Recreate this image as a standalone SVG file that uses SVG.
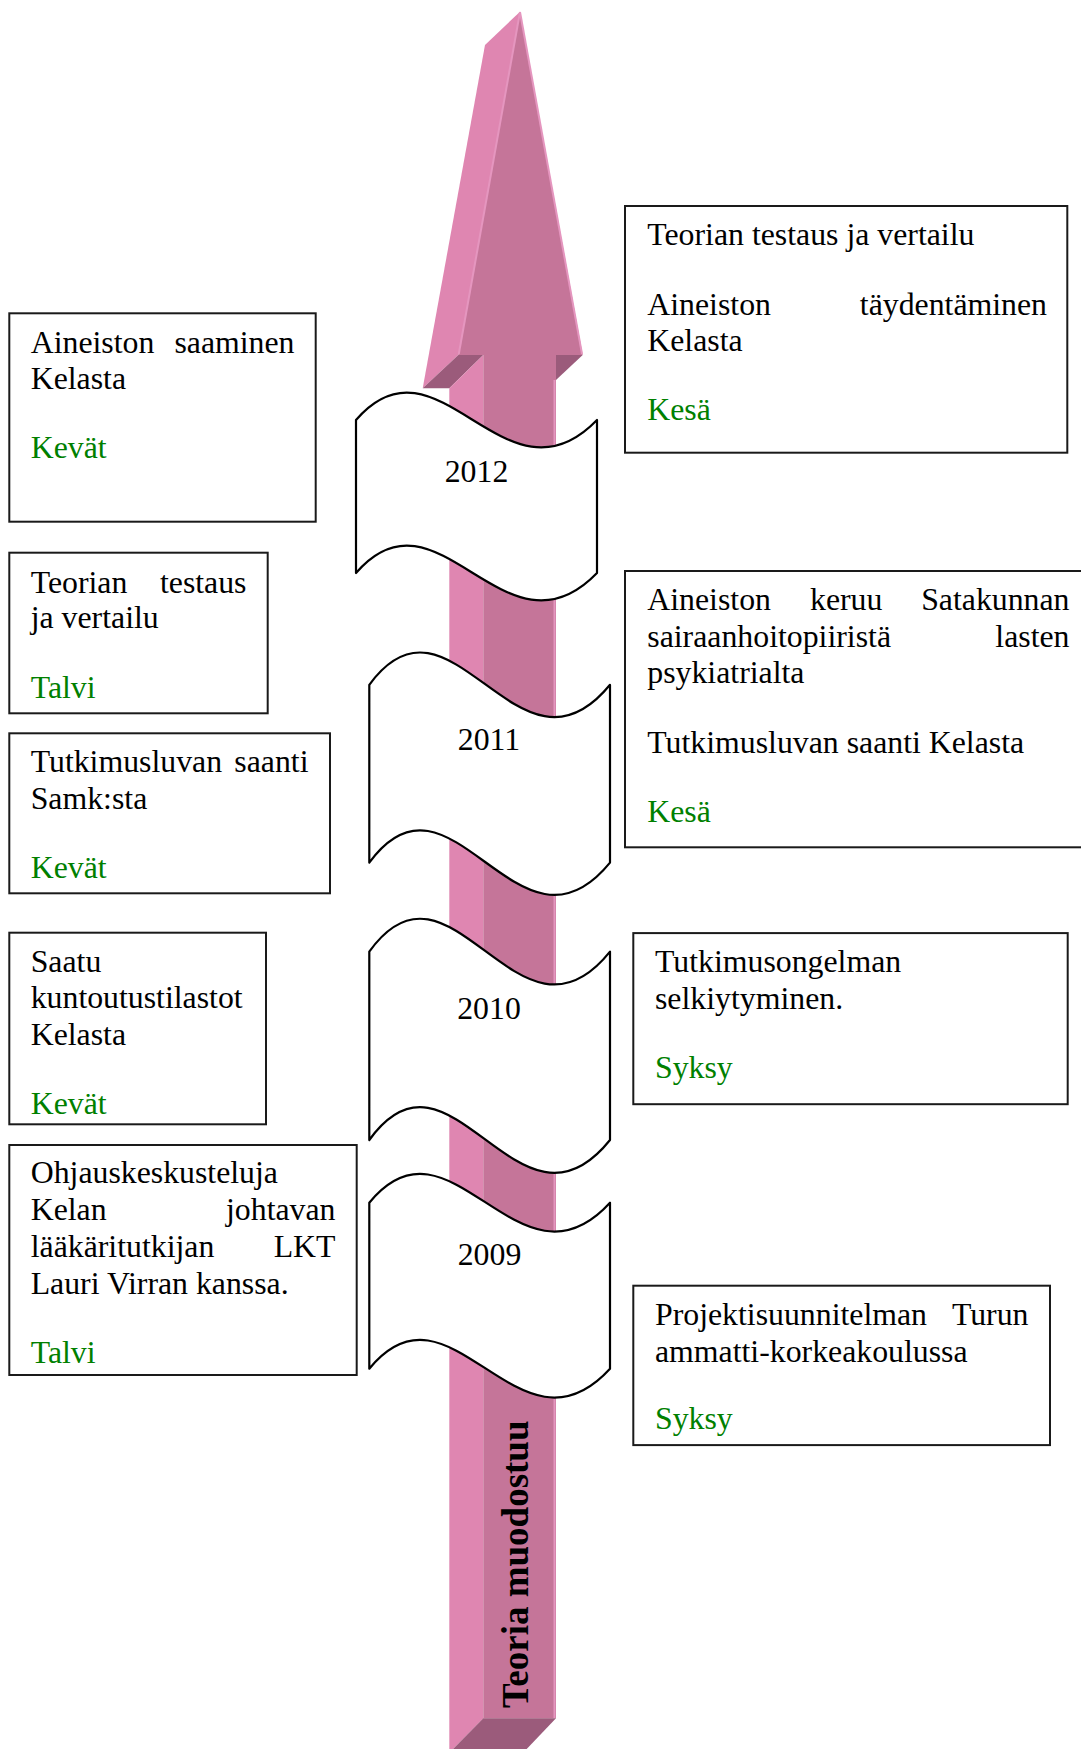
<svg xmlns="http://www.w3.org/2000/svg" width="1081" height="1749" viewBox="0 0 1081 1749">
<style>
  .box { fill: #ffffff; stroke: #1a1a1a; stroke-width: 2; }
  .wave { fill: #ffffff; stroke: #000000; stroke-width: 2.2; stroke-linejoin: round; }
  .t { font-family: "Liberation Serif", "Times New Roman", serif; font-size: 31.8px; fill: #000000; }
  .g { font-family: "Liberation Serif", "Times New Roman", serif; font-size: 31.8px; fill: #008000; }
  .e { text-anchor: end; }
  .m { text-anchor: middle; }
  .light { fill: #DF86B1; }
  .front { fill: #C57599; }
  .dark { fill: #9B5B7B; }
  .hl { stroke: #E596BF; stroke-width: 2; fill: none; }
  .title { font-family: "Liberation Serif", "Times New Roman", serif; font-size: 37px; font-weight: bold; fill: #000000; }
</style>
<rect width="1081" height="1749" fill="#ffffff"/>

<g id="timeline-arrow">
  <polygon class="light" points="485,45 520,11.7 458.3,355 422.7,388.3"/>
  <polygon class="front" points="520,11.7 582.7,355 458.3,355"/>
  <polygon class="dark" points="422.7,388.3 458.3,355 483.3,355 449.3,388.3"/>
  <polygon class="dark" points="556,355 582.7,355 556,380"/>
  <polygon class="light" points="449.3,388.3 483.3,355 483.3,1718.3 453,1749 449.3,1749"/>
  <rect class="front" x="483.3" y="355" width="72.7" height="1363.3"/>
  <line class="hl" x1="554.5" y1="380" x2="554.5" y2="1718"/>
  <polygon class="dark" points="483.3,1718.3 556,1718.3 526.7,1749 453,1749"/>
  <line class="hl" x1="520" y1="12" x2="458.8" y2="354"/>
  <line class="hl" x1="520" y1="12" x2="582" y2="354"/>
  <text class="title" transform="translate(528,1708) rotate(-90)">Teoria muodostuu</text>
</g>

<g id="year-2012">
  <path class="wave" d="M356,420 C438,325 505,515 597,420 L597,573 C505,668 438,478 356,573 Z"/>
  <text class="t m" x="476.5" y="482">2012</text>
</g>
<g id="year-2011">
  <path class="wave" d="M369.3,684.8 C451,572.8 518.5,796.8 610,684.8 L610,862.6 C518.5,974.6 451,750.6 369.3,862.6 Z"/>
  <text class="t m" x="489" y="750.2">2011</text>
</g>
<g id="year-2010">
  <path class="wave" d="M369.3,951.6 C451,837.6 518.5,1065.6 610,951.6 L610,1140 C518.5,1254 451,1026 369.3,1140 Z"/>
  <text class="t m" x="489" y="1018.8">2010</text>
</g>
<g id="year-2009">
  <path class="wave" d="M369.3,1202.7 C451,1102.7 518.5,1302.7 610,1202.7 L610,1368.7 C518.5,1468.7 451,1268.7 369.3,1368.7 Z"/>
  <text class="t m" x="489.5" y="1265">2009</text>
</g>

<g id="box-left-1">
  <rect class="box" x="9.3" y="313.3" width="306.4" height="208.4"/>
  <text class="t" x="30.7" y="353">Aineiston</text>
  <text class="t e" x="294.5" y="353">saaminen</text>
  <text class="t" x="30.7" y="389">Kelasta</text>
  <text class="g" x="30.7" y="458">Kevät</text>
</g>
<g id="box-left-2">
  <rect class="box" x="9.3" y="552.7" width="258.4" height="160.6"/>
  <text class="t" x="30.7" y="593.3">Teorian</text>
  <text class="t e" x="246.5" y="593.3">testaus</text>
  <text class="t" x="30.7" y="628.3">ja vertailu</text>
  <text class="g" x="30.7" y="698.3">Talvi</text>
</g>
<g id="box-left-3">
  <rect class="box" x="9.3" y="733.3" width="320.7" height="160"/>
  <text class="t" x="30.7" y="772.3">Tutkimusluvan</text>
  <text class="t e" x="308.5" y="772.3">saanti</text>
  <text class="t" x="30.7" y="809.3">Samk:sta</text>
  <text class="g" x="30.7" y="877.7">Kevät</text>
</g>
<g id="box-left-4">
  <rect class="box" x="9.3" y="932.7" width="256.7" height="191.6"/>
  <text class="t" x="30.7" y="971.7">Saatu</text>
  <text class="t" x="30.7" y="1008.3">kuntoutustilastot</text>
  <text class="t" x="30.7" y="1045">Kelasta</text>
  <text class="g" x="30.7" y="1114.3">Kevät</text>
</g>
<g id="box-left-5">
  <rect class="box" x="9.3" y="1145" width="347.4" height="230"/>
  <text class="t" x="30.7" y="1183.3">Ohjauskeskusteluja</text>
  <text class="t" x="30.7" y="1220">Kelan</text>
  <text class="t e" x="335.5" y="1220">johtavan</text>
  <text class="t" x="30.7" y="1257.3">lääkäritutkijan</text>
  <text class="t e" x="335.5" y="1257.3">LKT</text>
  <text class="t" x="30.7" y="1294">Lauri Virran kanssa.</text>
  <text class="g" x="30.7" y="1363.3">Talvi</text>
</g>

<g id="box-right-1">
  <rect class="box" x="625" y="206" width="442.3" height="246.7"/>
  <text class="t" x="647.3" y="245">Teorian testaus ja vertailu</text>
  <text class="t" x="647.3" y="315">Aineiston</text>
  <text class="t e" x="1047" y="315">täydentäminen</text>
  <text class="t" x="647.3" y="351">Kelasta</text>
  <text class="g" x="647.3" y="420">Kesä</text>
</g>
<g id="box-right-2">
  <rect class="box" x="625" y="571" width="470" height="276.3"/>
  <text class="t" x="647.3" y="610">Aineiston</text>
  <text class="t" x="810" y="610">keruu</text>
  <text class="t e" x="1069.5" y="610">Satakunnan</text>
  <text class="t" x="647.3" y="646.7">sairaanhoitopiiristä</text>
  <text class="t e" x="1069.5" y="646.7">lasten</text>
  <text class="t" x="647.3" y="683.3">psykiatrialta</text>
  <text class="t" x="647.3" y="752.7">Tutkimusluvan saanti Kelasta</text>
  <text class="g" x="647.3" y="821.7">Kesä</text>
</g>
<g id="box-right-3">
  <rect class="box" x="633.3" y="933.1" width="434.4" height="171.1"/>
  <text class="t" x="655" y="972.3">Tutkimusongelman</text>
  <text class="t" x="655" y="1008.8">selkiytyminen.</text>
  <text class="g" x="655" y="1078.4">Syksy</text>
</g>
<g id="box-right-4">
  <rect class="box" x="633.3" y="1285.7" width="416.7" height="159.4"/>
  <text class="t" x="655" y="1324.6">Projektisuunnitelman</text>
  <text class="t e" x="1028.5" y="1324.6">Turun</text>
  <text class="t" x="655" y="1361.5">ammatti-korkeakoulussa</text>
  <text class="g" x="655" y="1428.9">Syksy</text>
</g>
</svg>
